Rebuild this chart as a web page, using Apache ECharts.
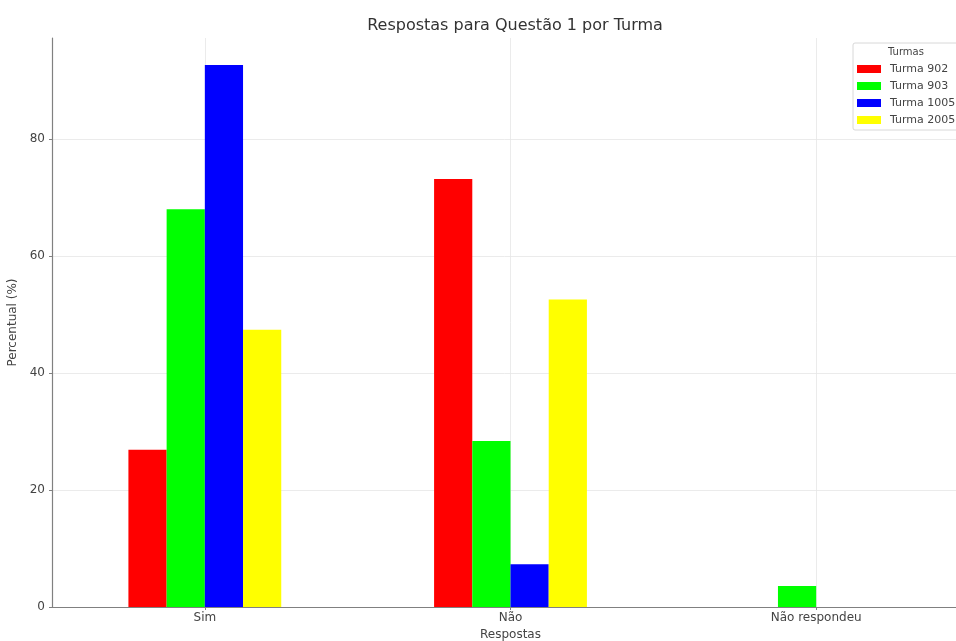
<!DOCTYPE html>
<html>
<head>
<meta charset="utf-8">
<script src="https://cdn.jsdelivr.net/npm/echarts@6/dist/echarts.min.js"></script>
<style>html,body{margin:0;padding:0;background:#fff}#c{width:956px;height:641px}</style>
</head>
<body>
<div id="c"></div>
<script>
const categories = ['Sim', 'Não', 'Não respondeu'];
const turma902 = [26.9, 73.2, 0];
const turma903 = [68.0, 28.4, 3.6];
const turma1005 = [92.7, 7.3, 0];
const turma2005 = [47.4, 52.6, 0];
const seriesNames = ['Turma 902', 'Turma 903', 'Turma 1005', 'Turma 2005'];
const seriesColors = ['#ff0000', '#00ff00', '#0000ff', '#ffff00'];
const yTicks = [0, 20, 40, 60, 80];

const FONT = 'DejaVu Sans';
const chart = echarts.init(document.getElementById('c'), null, {renderer: 'canvas'});
const dataSets = [turma902, turma903, turma1005, turma2005];

const series = dataSets.map((d, i) => ({
  name: seriesNames[i],
  type: 'bar',
  data: d,
  barGap: '0%',
  barCategoryGap: '50%',
  itemStyle: {color: seriesColors[i]},
  z: 3
}));
// helper series carrying the light grid lines at category centres and y ticks
series.push({
  name: 'grid',
  type: 'line',
  data: [],
  silent: true,
  z: 0,
  markLine: {
    silent: true,
    z: 0,
    symbol: 'none',
    animation: false,
    label: {show: false},
    lineStyle: {color: '#e6e6e6', width: 0.8, type: 'solid'},
    data: categories.map(c => ({xAxis: c}))
      .concat(yTicks.filter(v => v > 0).map(v => ({yAxis: v})))
  }
});

chart.setOption({
  animation: false,
  backgroundColor: '#fff',
  textStyle: {fontFamily: FONT},
  title: {
    text: 'Respostas para Questão 1 por Turma',
    left: 510, top: 13, textAlign: 'center',
    textStyle: {fontFamily: FONT, fontSize: 16, fontWeight: 'normal', color: '#333'}
  },
  graphic: [{
    type: 'text', left: 888, top: 47,
    style: {text: 'Turmas', fontFamily: FONT, fontSize: 10, fill: '#444'}
  }],
  legend: {
    orient: 'vertical',
    left: 853, top: 43,
    data: seriesNames,
    icon: 'rect',
    itemWidth: 24, itemHeight: 8, itemGap: 3,
    padding: [19, 40, 3, 4],
    borderColor: '#d8d8d8', borderWidth: 1, borderRadius: 2,
    textStyle: {fontFamily: FONT, fontSize: 11, color: '#444', lineHeight: 14, padding: [0, 0, 0, 4]}
  },
  grid: {left: 52, top: 38, bottom: 34, right: -13, containLabel: false, outerBoundsMode: 'none'},
  xAxis: {
    type: 'category',
    data: categories,
    name: 'Respostas',
    nameLocation: 'middle',
    nameGap: 21,
    nameTextStyle: {fontFamily: FONT, fontSize: 12, color: '#444'},
    axisLine: {lineStyle: {color: '#808080', width: 1.2}},
    axisTick: {show: true, alignWithLabel: true, length: 3, lineStyle: {color: '#808080'}},
    axisLabel: {fontFamily: FONT, fontSize: 12, color: '#444', margin: 5},
    splitLine: {show: false}
  },
  yAxis: {
    type: 'value',
    min: 0, max: 97.3, interval: 20,
    name: 'Percentual (%)',
    nameLocation: 'middle',
    nameRotate: 90,
    nameGap: 29,
    nameTextStyle: {fontFamily: FONT, fontSize: 12, color: '#444'},
    axisLine: {show: true, lineStyle: {color: '#808080', width: 1.2}},
    axisTick: {show: true, length: 3, lineStyle: {color: '#808080'}, customValues: yTicks},
    axisLabel: {
      fontFamily: FONT, fontSize: 12, color: '#444', margin: 7,
      customValues: yTicks
    },
    splitLine: {show: false}
  },
  series: series
});
</script>
</body>
</html>
